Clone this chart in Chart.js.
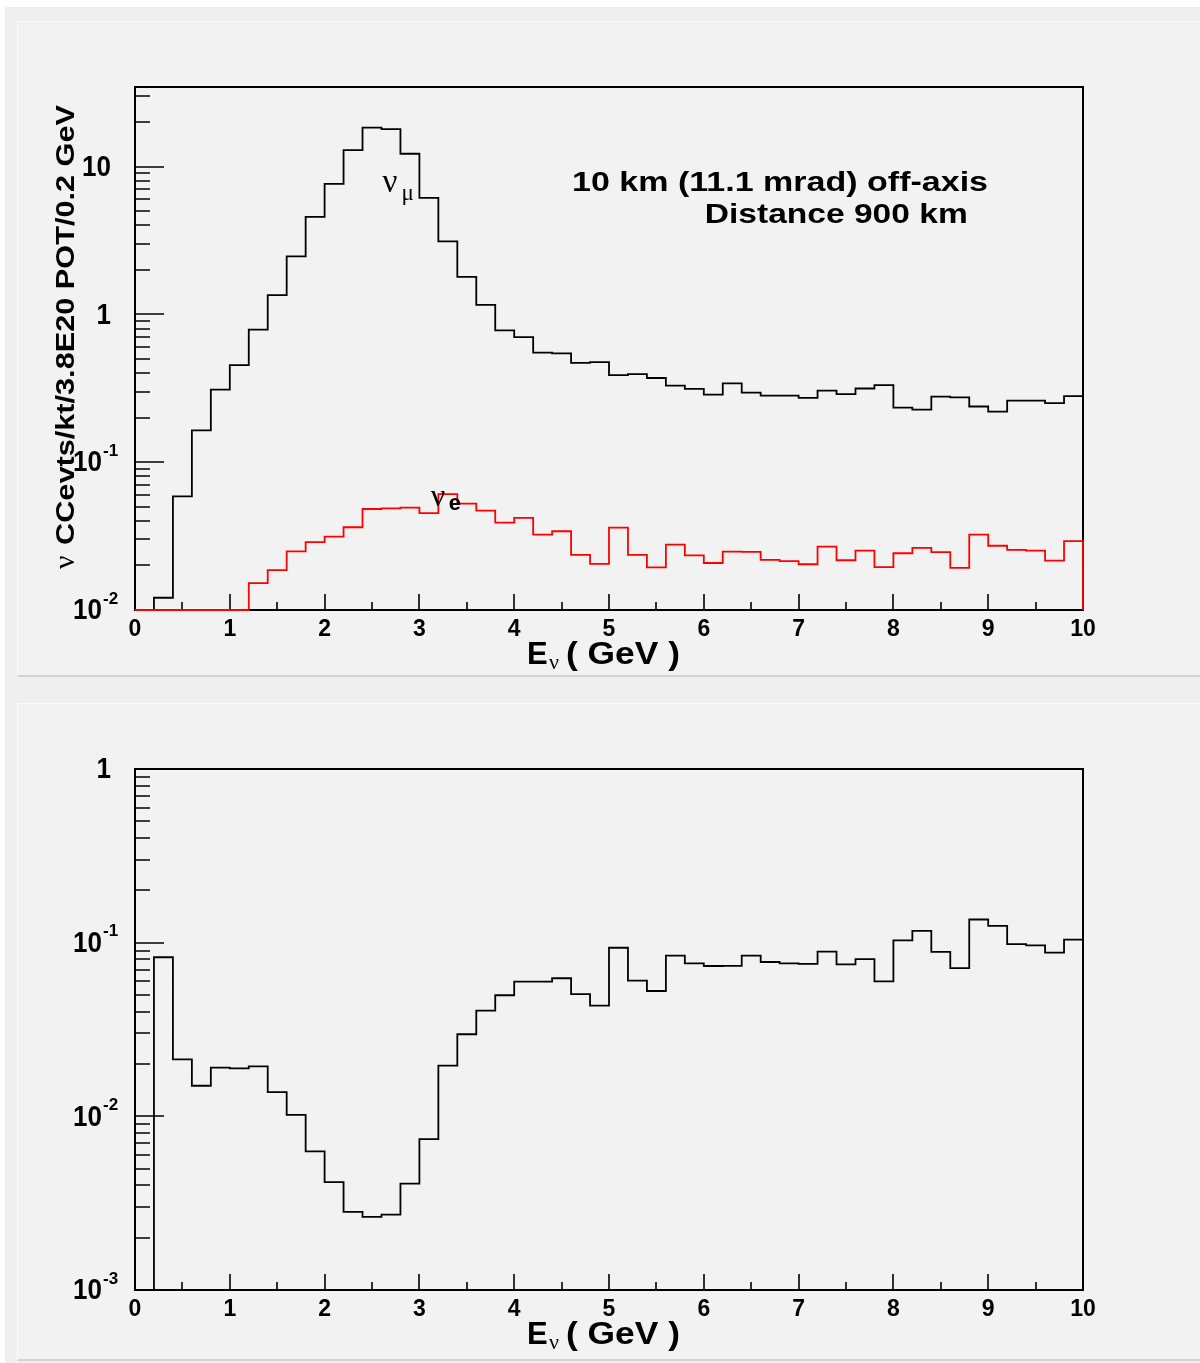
<!DOCTYPE html>
<html><head><meta charset="utf-8">
<script src="https://cdn.jsdelivr.net/npm/chart.js@4.4.1/dist/chart.umd.min.js"></script>
<style>
html,body{margin:0;padding:0;background:#fff;width:1200px;height:1363px;overflow:hidden;}
#outer{position:absolute;left:5px;top:7px;width:1195px;height:1356px;background:#efefef;}
.pad{position:absolute;left:17px;width:1183px;background:#f2f2f2;border-top:1px solid #fbfbfb;border-left:1px solid #fbfbfb;border-bottom:2px solid #d4d4d4;box-sizing:border-box;}
#pad1{top:21px;height:656px;}
#pad2{top:703px;height:658px;}
canvas{position:absolute;}
#c1{left:16px;top:20px;}
#c2{left:16px;top:703px;}
</style></head>
<body>
<div id="outer"></div>
<div class="pad" id="pad1"></div>
<div class="pad" id="pad2"></div>
<canvas id="c1" width="1184" height="656"></canvas>
<canvas id="c2" width="1184" height="657"></canvas>
<script>
// ---- data (0.2 GeV bins, low edges) ----
const binLowEdges = [0,0.2,0.4,0.6,0.8,1.0,1.2,1.4,1.6,1.8,2.0,2.2,2.4,2.6,2.8,3.0,3.2,3.4,3.6,3.8,
  4.0,4.2,4.4,4.6,4.8,5.0,5.2,5.4,5.6,5.8,6.0,6.2,6.4,6.6,6.8,7.0,7.2,7.4,7.6,7.8,
  8.0,8.2,8.4,8.6,8.8,9.0,9.2,9.4,9.6,9.8];
const binUpperEdge = 10;
const numuEvents = [0,0.0121,0.0587,0.164,0.310,0.454,0.789,1.35,2.47,4.57,
  7.64,12.9,18.3,17.9,12.2,6.14,3.12,1.79,1.16,0.778,
  0.701,0.550,0.544,0.470,0.475,0.388,0.394,0.371,0.329,0.313,
  0.286,0.341,0.295,0.282,0.282,0.272,0.305,0.289,0.315,0.332,
  0.234,0.227,0.278,0.274,0.238,0.220,0.261,0.261,0.251,0.280];
const nueEvents = [0,0,0,0,0,0,0.0152,0.0186,0.0249,0.0288,
  0.0314,0.0363,0.0482,0.0487,0.0492,0.0452,0.0607,0.0525,0.0470,0.0390,
  0.0420,0.0324,0.0341,0.0236,0.0205,0.0361,0.0236,0.0194,0.0277,0.0234,
  0.0208,0.0248,0.0247,0.0218,0.0214,0.0204,0.0268,0.0217,0.0252,0.0195,
  0.0242,0.0263,0.0246,0.0193,0.0324,0.0272,0.0255,0.0252,0.0216,0.0292];
const nueOverNumu = [0,0.0824,0.0213,0.0150,0.0191,0.0189,0.0194,0.0138,0.0102,0.00629,
  0.00418,0.00282,0.00264,0.00272,0.00410,0.00739,0.0196,0.0297,0.0406,0.0498,
  0.0596,0.0596,0.0624,0.0505,0.0434,0.0935,0.0604,0.0527,0.0842,0.0760,
  0.0734,0.0736,0.0842,0.0774,0.0760,0.0754,0.0888,0.0750,0.0805,0.0599,
  0.103,0.117,0.0884,0.0714,0.136,0.125,0.0982,0.0966,0.0876,0.104];
const xTickLabels = ['0','1','2','3','4','5','6','7','8','9','10'];
const yDecadesTop = [-2,-1,0,1];
const yDecadesBottom = [-3,-2,-1,0];
const yRangeTop = [0.01, 34.5];
const yRangeBottom = [0.001, 1];
const xTitleMain = 'E', xTitleSub = 'ν', xTitleUnit = '( GeV )';
const yTitleTop = 'CCevts/kt/3.8E20 POT/0.2 GeV', yTitleNu = 'ν';
const infoLine1 = '10 km (11.1 mrad) off-axis', infoLine2 = 'Distance 900 km';

function histPoints(vals, ymin){
  const pts = [{x: binLowEdges[0], y: ymin}];
  vals.forEach((v,i)=>pts.push({x: binLowEdges[i], y: v>0 ? v : ymin}));
  const last = vals[vals.length-1];
  pts.push({x: binUpperEdge, y: last>0?last:ymin});
  pts.push({x: binUpperEdge, y: ymin});
  return pts;
}

const SANS = '"Liberation Sans", Arial, Helvetica, sans-serif';
const SERIF = '"Liberation Serif", "Times New Roman", serif';

function txt(ctx, s, x, y, o){
  ctx.save();
  ctx.translate(x, y);
  if (o.rot) ctx.rotate(o.rot);
  ctx.font = o.font;
  let sx = o.sx || 1;
  if (o.w) sx = o.w / ctx.measureText(s).width;
  ctx.scale(sx, o.sy || 1);
  ctx.textAlign = o.align || 'left';
  ctx.textBaseline = o.base || 'middle';
  ctx.fillStyle = o.color || '#000';
  ctx.fillText(s, 0, 0);
  ctx.restore();
}

function rootFrame(cfg){
  return {
    id: 'rootFrame' + cfg.key,
    beforeDatasetsDraw(chart){
      const ctx = chart.ctx, a = chart.chartArea;
      const xs = chart.scales.x, ys = chart.scales.y;
      ctx.save();
      ctx.strokeStyle = '#000';
      ctx.lineWidth = 2;
      ctx.strokeRect(a.left, a.top, a.right - a.left, a.bottom - a.top);
      ctx.lineWidth = 1.6;
      ctx.beginPath();
      for (let v = xs.min; v <= xs.max + 1e-9; v += 0.5){
        const px = Math.round(xs.getPixelForValue(v));
        const len = Math.abs(v - Math.round(v)) < 1e-6 ? 16 : 8;
        ctx.moveTo(px, a.bottom); ctx.lineTo(px, a.bottom - len);
      }
      const d0 = Math.floor(Math.log10(ys.min)), d1 = Math.ceil(Math.log10(ys.max));
      for (let d = d0; d <= d1; d++){
        for (let m = 1; m <= 9; m++){
          const v = m * Math.pow(10, d);
          if (v < ys.min*0.999 || v > ys.max*1.001) continue;
          const py = Math.round(ys.getPixelForValue(v));
          const len = m === 1 ? 29 : 15;
          ctx.moveTo(a.left, py); ctx.lineTo(a.left + len, py);
        }
      }
      ctx.stroke();
      ctx.restore();
    },
    afterDraw(chart){
      const ctx = chart.ctx, a = chart.chartArea;
      const xs = chart.scales.x, ys = chart.scales.y;
      // x tick labels
      xTickLabels.forEach((lab, i) => {
        txt(ctx, lab, xs.getPixelForValue(i), a.bottom + 19, {font: 'bold 23px ' + SANS, align: 'center', sy: 1.08});
      });
      // y tick labels
      cfg.decades.forEach(e => {
        const py = ys.getPixelForValue(Math.pow(10, e)) + 1;
        if (e === 0 || e === 1){
          txt(ctx, e === 0 ? '1' : '10', a.left - 24, py, {font: 'bold 26px ' + SANS, align: 'right', sy: 1.15});
        } else {
          txt(ctx, '10', a.left - 33, py, {font: 'bold 26px ' + SANS, align: 'right', sy: 1.15});
          txt(ctx, String(e), a.left - 32, py - 12, {font: 'bold 17px ' + SANS, align: 'left'});
        }
      });
      // x title
      const tx = a.left + 392, ty = a.bottom + 45;
      txt(ctx, xTitleMain, tx, ty, {font: 'bold 31px ' + SANS});
      txt(ctx, xTitleSub, tx + 22, ty + 8, {font: '22px ' + SERIF});
      txt(ctx, xTitleUnit, tx + 39, ty, {font: 'bold 31px ' + SANS, w: 114});
      if (cfg.extra) cfg.extra(chart);
    }
  };
}

function makeChart(id, datasets, yRange, cfg){
  return new Chart(document.getElementById(id), {
    type: 'line',
    data: { datasets },
    options: {
      responsive: false,
      animation: false,
      events: [],
      layout: { padding: cfg.padding },
      plugins: { legend: {display: false}, tooltip: {enabled: false} },
      elements: { point: {radius: 0}, line: {tension: 0} },
      scales: {
        x: { type: 'linear', min: 0, max: 10, display: false },
        y: { type: 'logarithmic', min: yRange[0], max: yRange[1], display: false }
      }
    },
    plugins: [rootFrame(cfg)]
  });
}

// top chart: event spectra
makeChart('c1', [
  { data: histPoints(nueEvents, yRangeTop[0]), borderColor: '#ff0000', borderWidth: 1.8, stepped: true, clip: 3, order: 0 },
  { data: histPoints(numuEvents, yRangeTop[0]), borderColor: '#000000', borderWidth: 1.8, stepped: true, clip: 3, order: 1 }
], yRangeTop, {
  key: 'top', decades: yDecadesTop,
  padding: {left: 119, top: 67, right: 117, bottom: 66},
  extra(chart){
    const ctx = chart.ctx, xs = chart.scales.x, ys = chart.scales.y;
    // y title (rotated)
    const bx = 58, by0 = 525; // canvas coords
    txt(ctx, yTitleTop, bx, by0, {font: 'bold 26px ' + SANS, rot: -Math.PI/2, base: 'alphabetic', w: 440});
    txt(ctx, yTitleNu, bx, by0 + 24, {font: '30px ' + SERIF, rot: -Math.PI/2, base: 'alphabetic'});
    // info text
    txt(ctx, infoLine1, xs.getPixelForValue(4.61), ys.getPixelForValue(7.7), {font: 'bold 28px ' + SANS, w: 416});
    txt(ctx, infoLine2, xs.getPixelForValue(6.01), ys.getPixelForValue(4.65), {font: 'bold 28px ' + SANS, w: 263});
    // curve labels
    const mx = xs.getPixelForValue(2.61), my = ys.getPixelForValue(7.7);
    txt(ctx, 'ν', mx, my, {font: '33px ' + SERIF});
    txt(ctx, 'μ', mx + 19, my + 11, {font: '23px ' + SERIF});
    const ex = xs.getPixelForValue(3.12), ey = ys.getPixelForValue(0.058);
    txt(ctx, 'ν', ex, ey, {font: '32px ' + SERIF});
    txt(ctx, 'e', ex + 18, ey + 7, {font: 'bold 22px ' + SANS});
  }
});

// bottom chart: ratio
makeChart('c2', [
  { data: histPoints(nueOverNumu, yRangeBottom[0]), borderColor: '#000000', borderWidth: 1.8, stepped: true, clip: 3 }
], yRangeBottom, {
  key: 'bot', decades: yDecadesBottom,
  padding: {left: 119, top: 66, right: 117, bottom: 70}
});
</script>
</body></html>
